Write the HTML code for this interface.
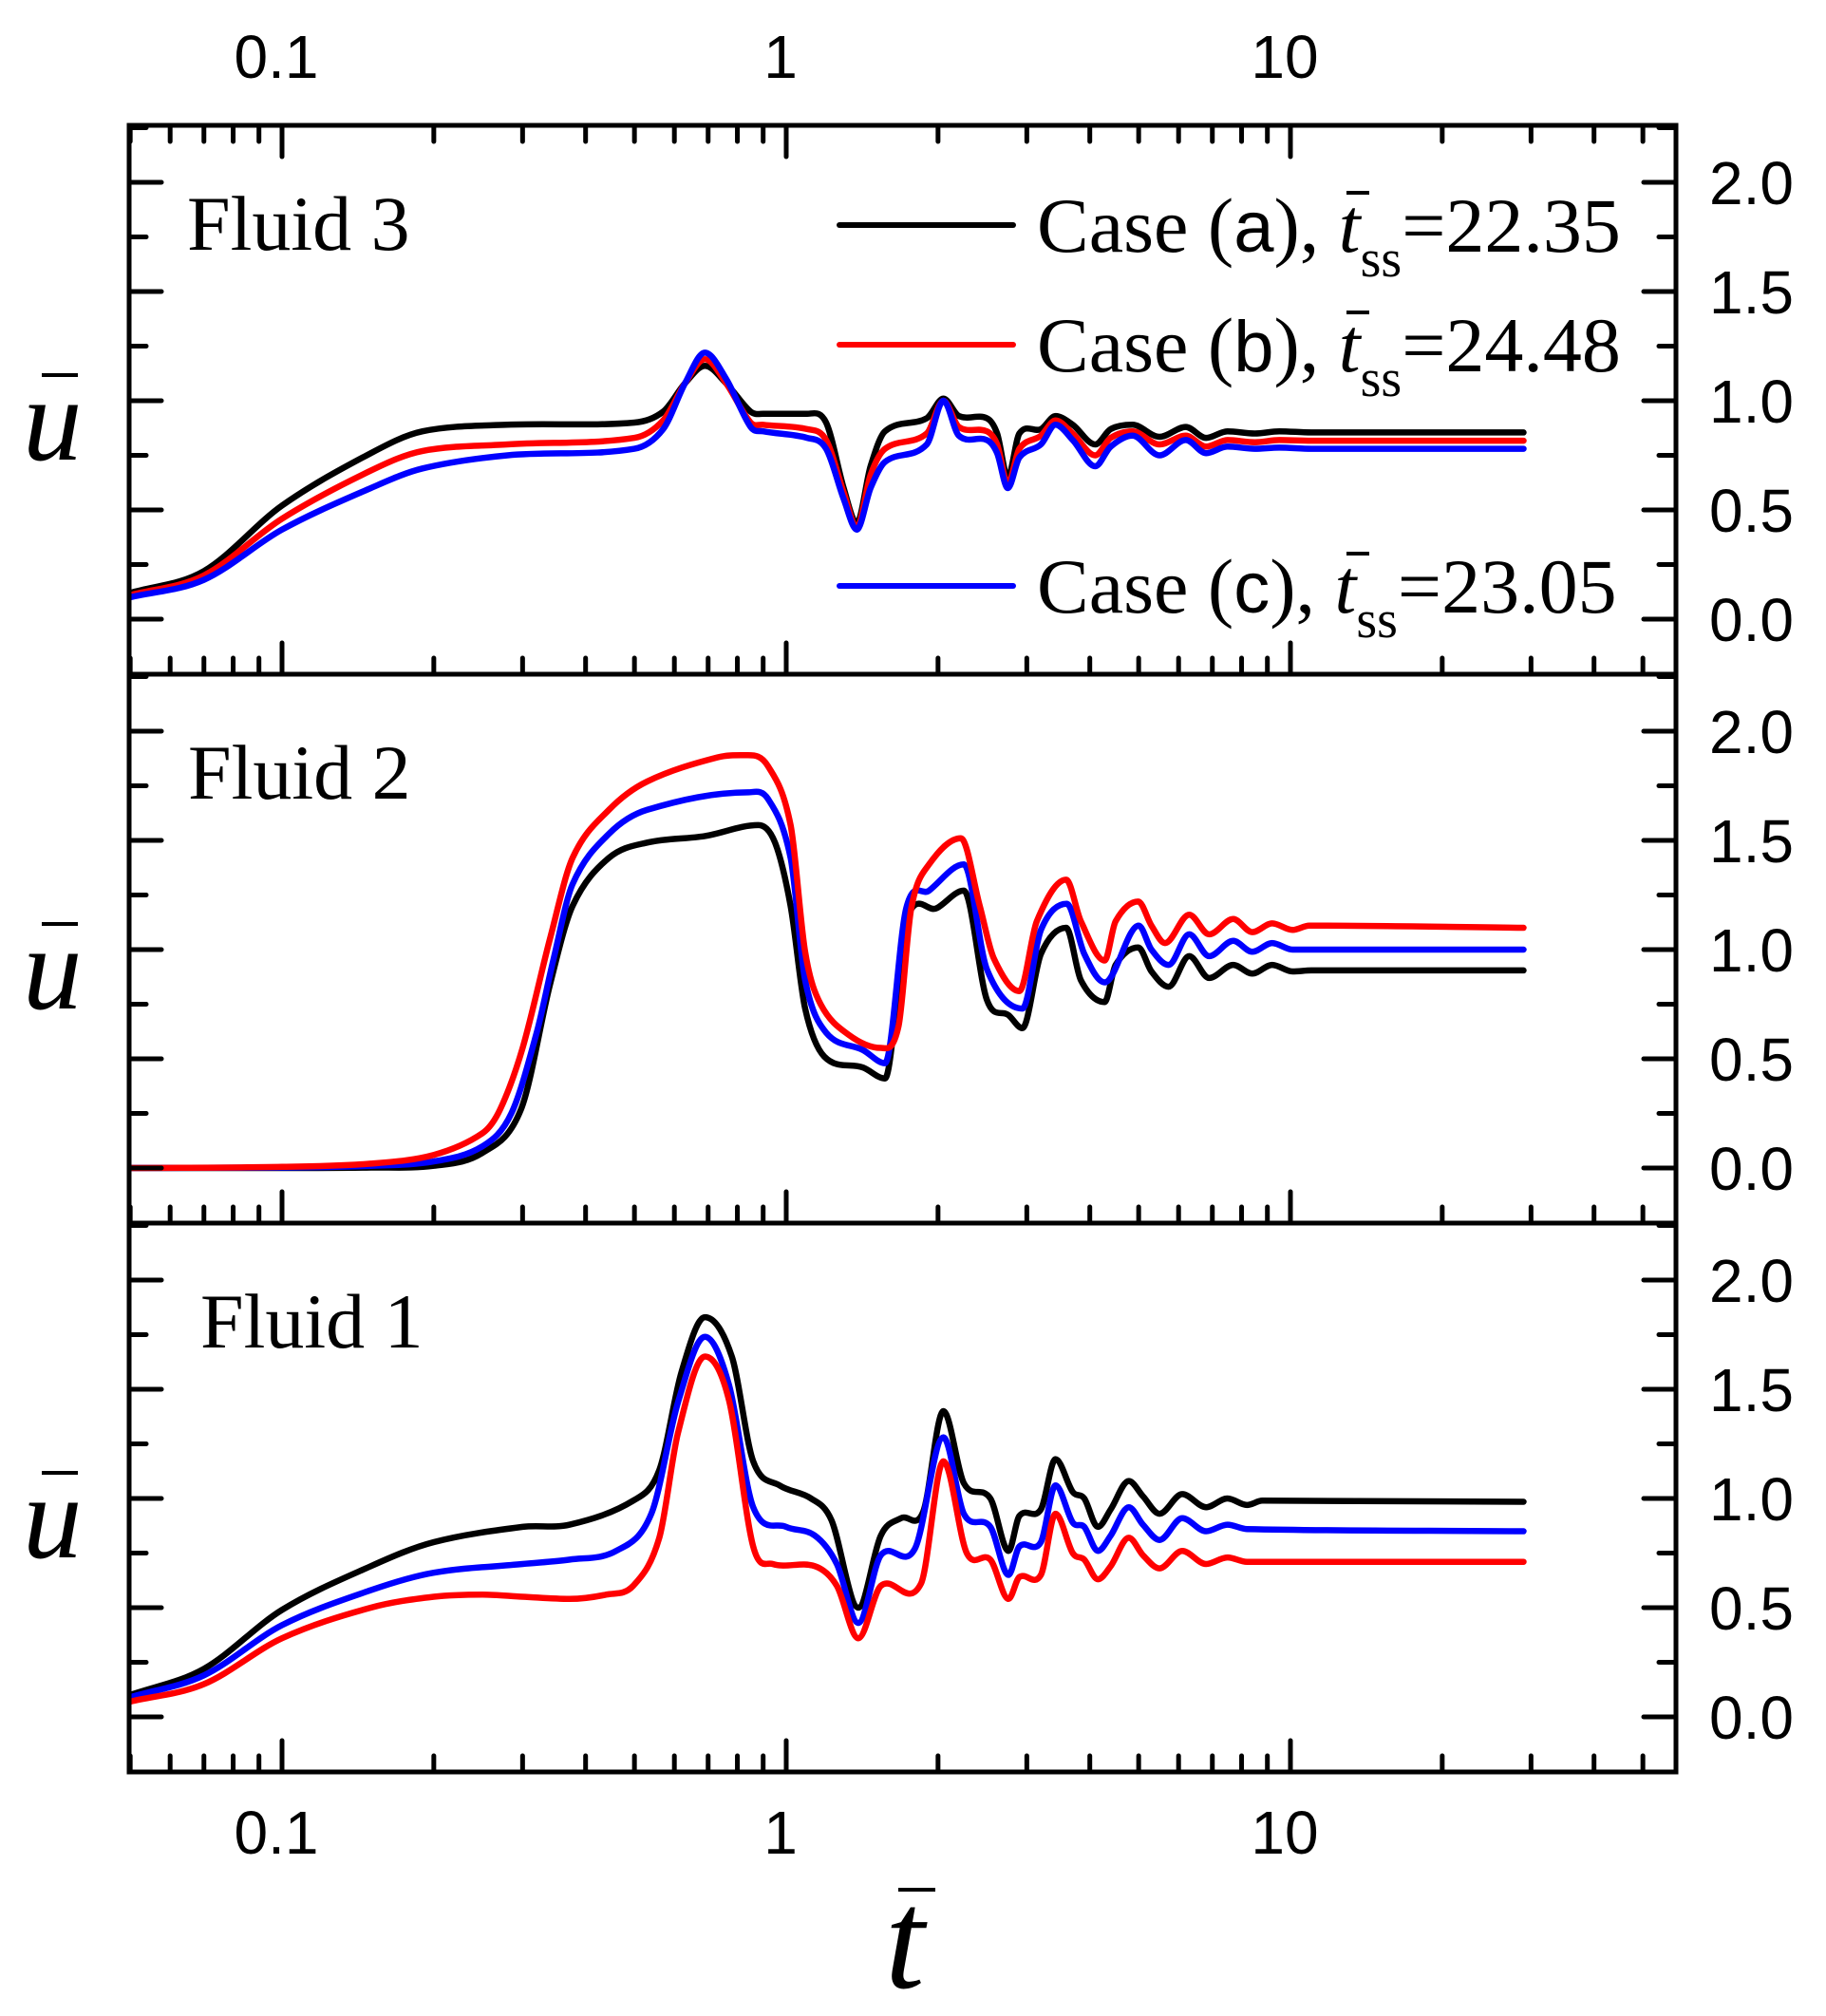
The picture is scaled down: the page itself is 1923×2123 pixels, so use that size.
<!DOCTYPE html>
<html>
<head>
<meta charset="utf-8">
<style>
  html, body { margin: 0; padding: 0; background: #fff; }
  svg { display: block; }
  .tick-label { font-family: "Liberation Sans", Arial, sans-serif; font-size: 64px; fill: #000; }
  .serif { font-family: "Liberation Serif", "Times New Roman", serif; fill: #000; }
</style>
</head>
<body>
<svg id="chart" width="1923" height="2123" viewBox="0 0 1923 2123" xmlns="http://www.w3.org/2000/svg">
  <g id="series-layer"></g>
  <g id="axes-layer"></g>
  <g id="text-layer"></g>
</svg>
<script>
// ---- data ----
const xTickValues = [0.1, 1, 10];
const xTickLabels = ["0.1", "1", "10"];
const yTickValues = [0, 0.5, 1, 1.5, 2];
const yTickLabels = ["0.0", "0.5", "1.0", "1.5", "2.0"];
const panelNames = ["Fluid 3", "Fluid 2", "Fluid 1"];
const seriesNames = ["Case (a)", "Case (b)", "Case (c)"];
const seriesTss = ["22.35", "24.48", "23.05"];

// Fluid 3 (top panel)
const f3_t_a = [0.05,0.07,0.1,0.15,0.19,0.28,0.5,0.57,0.63,0.69,0.76,0.85,0.9,1.1,1.2,1.3,1.38,1.47,1.57,1.9,2.05,2.2,2.5,2.62,2.75,2.9,3.2,3.42,3.7,4.1,4.4,4.86,5.5,6.2,6.8,7.5,8.5,9.5,11,29];
const f3_a = [0.12,0.22,0.52,0.76,0.86,0.89,0.9,0.95,1.08,1.16,1.08,0.95,0.94,0.94,0.9,0.6,0.44,0.7,0.86,0.92,1.01,0.93,0.92,0.85,0.65,0.85,0.87,0.93,0.89,0.8,0.87,0.89,0.835,0.88,0.83,0.86,0.85,0.86,0.855,0.855];
const f3_b = [0.11,0.2,0.46,0.68,0.77,0.8,0.83,0.91,1.08,1.19,1.08,0.9,0.89,0.87,0.82,0.58,0.42,0.66,0.78,0.85,1.0,0.88,0.86,0.8,0.62,0.78,0.84,0.91,0.85,0.75,0.83,0.86,0.8,0.84,0.79,0.82,0.81,0.82,0.817,0.817];
const f3_c = [0.1,0.18,0.41,0.6,0.69,0.75,0.78,0.87,1.08,1.22,1.1,0.88,0.86,0.83,0.78,0.55,0.41,0.6,0.72,0.8,1.0,0.84,0.82,0.76,0.6,0.74,0.8,0.89,0.82,0.7,0.79,0.84,0.75,0.82,0.76,0.79,0.78,0.785,0.78,0.78];

// Fluid 2 (middle panel)
const f2_t_a = [0.05,0.1,0.15,0.2,0.25,0.298,0.34,0.377,0.445,0.53,0.69,0.88,0.95,1.02,1.09,1.19,1.42,1.57,1.73,1.99,2.25,2.5,2.76,2.94,3.2,3.59,3.84,4.28,4.5,4.99,5.3,5.73,6.3,6.9,7.7,8.4,9.2,10.1,11,29];
const f2_a = [0,0,0.002,0.01,0.07,0.27,0.84,1.2,1.42,1.49,1.52,1.57,1.49,1.2,0.73,0.51,0.46,0.41,1.13,1.19,1.27,0.77,0.7,0.64,0.98,1.1,0.86,0.76,0.93,1.01,0.9,0.83,0.97,0.87,0.93,0.89,0.93,0.9,0.905,0.905];
const f2_t_b = [0.05,0.1,0.15,0.2,0.25,0.271,0.3,0.34,0.377,0.445,0.53,0.73,0.84,0.92,1.02,1.09,1.17,1.33,1.54,1.67,1.77,1.92,2.22,2.42,2.58,2.9,3.14,3.59,3.84,4.28,4.5,4.99,5.3,5.64,6.3,6.9,7.7,8.4,9.2,10.1,10.9,29];
const f2_b = [0,0.005,0.02,0.06,0.16,0.27,0.55,1.05,1.42,1.64,1.77,1.88,1.89,1.84,1.57,0.99,0.75,0.61,0.55,0.65,1.19,1.39,1.51,1.2,0.96,0.81,1.13,1.32,1.13,0.95,1.13,1.22,1.11,1.03,1.16,1.07,1.14,1.08,1.12,1.09,1.11,1.1];
const f2_t_c = [0.05,0.1,0.15,0.2,0.25,0.285,0.32,0.345,0.377,0.445,0.53,0.84,0.92,1.02,1.09,1.2,1.42,1.57,1.73,1.92,2.25,2.5,2.94,3.2,3.6,3.9,4.28,5.0,5.3,5.73,6.3,6.9,7.7,8.4,9.2,10.1,29];
const f2_c = [0,0.002,0.01,0.03,0.1,0.25,0.62,0.95,1.3,1.53,1.64,1.72,1.69,1.42,0.86,0.62,0.54,0.48,1.19,1.27,1.39,0.91,0.73,1.09,1.21,0.98,0.85,1.11,1.0,0.93,1.07,0.97,1.04,0.99,1.03,1.0,1.0];

// Fluid 1 (bottom panel)
const f1_t_a = [0.05,0.07,0.1,0.15,0.2,0.3,0.372,0.497,0.56,0.62,0.69,0.78,0.86,0.97,1.12,1.23,1.39,1.54,1.69,1.87,2.05,2.25,2.54,2.76,2.9,3.2,3.42,3.7,3.9,4.15,4.4,4.78,5.1,5.5,6.1,6.8,7.5,8.2,8.8,29];
const f1_a = [0.1,0.22,0.49,0.69,0.8,0.87,0.88,0.99,1.13,1.58,1.83,1.65,1.17,1.06,1.0,0.9,0.5,0.83,0.91,0.94,1.4,1.07,1.0,0.76,0.92,0.95,1.18,1.03,1.0,0.87,0.95,1.08,1.01,0.93,1.02,0.96,1.0,0.97,0.99,0.985];
const f1_t_b = [0.05,0.07,0.1,0.15,0.2,0.25,0.3,0.372,0.44,0.497,0.56,0.61,0.69,0.77,0.86,0.94,1.14,1.26,1.39,1.54,1.85,2.05,2.28,2.54,2.76,2.9,3.2,3.42,3.7,3.9,4.15,4.4,4.78,5.1,5.5,6.1,6.8,7.5,8.2,29];
const f1_b = [0.07,0.15,0.36,0.5,0.55,0.56,0.55,0.54,0.56,0.6,0.82,1.3,1.65,1.45,0.78,0.7,0.69,0.6,0.36,0.6,0.61,1.17,0.75,0.72,0.54,0.64,0.65,0.93,0.75,0.72,0.63,0.69,0.82,0.74,0.68,0.76,0.7,0.73,0.71,0.71];
const f1_t_c = [0.05,0.07,0.1,0.15,0.2,0.3,0.372,0.46,0.54,0.61,0.69,0.77,0.86,1.0,1.14,1.26,1.39,1.54,1.8,2.05,2.25,2.54,2.76,2.9,3.2,3.42,3.7,3.9,4.15,4.4,4.78,5.1,5.5,6.1,6.8,7.5,8.2,29];
const f1_c = [0.09,0.19,0.42,0.58,0.66,0.7,0.72,0.76,0.93,1.44,1.74,1.52,0.96,0.87,0.83,0.7,0.43,0.74,0.77,1.28,0.93,0.87,0.65,0.78,0.8,1.06,0.89,0.87,0.76,0.83,0.96,0.88,0.81,0.91,0.85,0.88,0.86,0.85];

// ---- layout ----
const NS = "http://www.w3.org/2000/svg";
const L = 136, R = 1765, TOP = 132, PH = 578;
const YS = 230; // px per unit
function X(t) { return 297 + 531 * Math.log10(t / 0.1); }
function Y(panel, u) { return TOP + panel * PH + 520 - u * YS; }

const seriesLayer = document.getElementById('series-layer');
const axesLayer = document.getElementById('axes-layer');
const textLayer = document.getElementById('text-layer');

function mk(tag, attrs, parent) {
  const e = document.createElementNS(NS, tag);
  for (const k in attrs) e.setAttribute(k, attrs[k]);
  parent.appendChild(e);
  return e;
}

// cubic Hermite in x (no loops)
function smoothPath(pts) {
  const n = pts.length;
  const m = pts.map((p, i) => {
    const a = pts[Math.max(0, i - 1)], b = pts[Math.min(n - 1, i + 1)];
    const s1 = i > 0 ? (p[1] - a[1]) / (p[0] - a[0]) : null;
    const s2 = i < n - 1 ? (b[1] - p[1]) / (b[0] - p[0]) : null;
    if (s1 === null) return s2;
    if (s2 === null) return s1;
    if (s1 * s2 <= 0) return 0;
    return (b[1] - a[1]) / (b[0] - a[0]);
  });
  let d = "M" + pts[0][0].toFixed(1) + "," + pts[0][1].toFixed(1);
  for (let i = 0; i < n - 1; i++) {
    const p1 = pts[i], p2 = pts[i + 1];
    const dx = (p2[0] - p1[0]) / 3;
    d += " C" + (p1[0] + dx).toFixed(1) + "," + (p1[1] + m[i] * dx).toFixed(1) + " " +
         (p2[0] - dx).toFixed(1) + "," + (p2[1] - m[i + 1] * dx).toFixed(1) + " " +
         p2[0].toFixed(1) + "," + p2[1].toFixed(1);
  }
  return d;
}

const colors = ["#000000", "#ff0000", "#0000ff"];
const panelSeries = [
  [[f3_t_a, f3_a], [f3_t_a, f3_b], [f3_t_a, f3_c]],
  [[f2_t_a, f2_a], [f2_t_b, f2_b], [f2_t_c, f2_c]],
  [[f1_t_a, f1_a], [f1_t_b, f1_b], [f1_t_c, f1_c]]
];
const drawOrder = [[0,1,2],[0,2,1],[0,2,1]];
const panelKeys = ["fluid-3", "fluid-2", "fluid-1"];
const caseKeys = ["case-a", "case-b", "case-c"];

panelSeries.forEach((ser, p) => {
  drawOrder[p].forEach(s => {
    const [ts, us] = ser[s];
    const pts = ts.map((t, i) => [X(t), Y(p, us[i])]);
    const path = mk('path', { d: smoothPath(pts), fill: 'none', stroke: colors[s], 'stroke-width': 6.5, 'stroke-linejoin': 'round', 'stroke-linecap': 'round' }, seriesLayer);
    
    
  });
});

// ---- axes ----
const minorX = [];
[0.01, 0.1, 1, 10].forEach(dec => { for (let m = 2; m <= 9; m++) minorX.push(dec * m); });
const xMin = 0.0497, xMax = 58;

for (let p = 0; p < 3; p++) {
  const y0 = TOP + p * PH, y1 = y0 + PH;
  const frame = mk('rect', { x: L, y: y0, width: R - L, height: PH, fill: 'none', stroke: '#000', 'stroke-width': 5 }, axesLayer);
  
  
  xTickValues.forEach(v => {
    const t = mk('line', { x1: X(v), x2: X(v), y1: y1, y2: y1 - 33, stroke: '#000', 'stroke-width': 5, 'stroke-linecap': 'round' }, axesLayer);
    
    
  });
  minorX.forEach(v => {
    if (v <= xMin || v >= xMax) return;
    const t = mk('line', { x1: X(v), x2: X(v), y1: y1, y2: y1 - 17, stroke: '#000', 'stroke-width': 5, 'stroke-linecap': 'round' }, axesLayer);
    
    
  });
  for (let k = -1; k <= 9; k++) {
    const u = k * 0.25;
    const yy = Y(p, u);
    if (yy <= y0 + 2 || yy >= y1 - 2) continue;
    const len = (k % 2 === 0) ? 34 : 18;
    const tl = mk('line', { x1: L, x2: L + len, y1: yy, y2: yy, stroke: '#000', 'stroke-width': 5, 'stroke-linecap': 'round' }, axesLayer);
    
    
    const tr = mk('line', { x1: R, x2: R - len, y1: yy, y2: yy, stroke: '#000', 'stroke-width': 5, 'stroke-linecap': 'round' }, axesLayer);
    
    
  }
  yTickValues.forEach((v, i) => {
    const tx = mk('text', { x: 1800, y: Y(p, v) + 23, class: 'tick-label' }, textLayer);
    tx.textContent = yTickLabels[i];
    
    
  });
  const yt = mk('text', { x: 24, y: y0 + 352, class: 'serif', 'font-size': 125, 'font-style': 'italic' }, textLayer);
  yt.textContent = "u";
  
  
  const yb = mk('line', { x1: 44, x2: 82, y1: y0 + 263, y2: y0 + 263, stroke: '#000', 'stroke-width': 4 }, textLayer);
  
  
  const pl = mk('text', { x: [197, 198, 211][p], y: y0 + 131, class: 'serif', 'font-size': 82 }, textLayer);
  pl.textContent = panelNames[p];
  
  
}

xTickValues.forEach(v => {
  const t = mk('line', { x1: X(v), x2: X(v), y1: TOP, y2: TOP + 33, stroke: '#000', 'stroke-width': 5, 'stroke-linecap': 'round' }, axesLayer);
  
  
});
minorX.forEach(v => {
  if (v <= xMin || v >= xMax) return;
  const t = mk('line', { x1: X(v), x2: X(v), y1: TOP, y2: TOP + 17, stroke: '#000', 'stroke-width': 5, 'stroke-linecap': 'round' }, axesLayer);
  
  
});

xTickValues.forEach((v, i) => {
  const a = mk('text', { x: X(v) - 6, y: 82, class: 'tick-label', 'text-anchor': 'middle' }, textLayer);
  a.textContent = xTickLabels[i];
  
  
  const b = mk('text', { x: X(v) - 6, y: 1952, class: 'tick-label', 'text-anchor': 'middle' }, textLayer);
  b.textContent = xTickLabels[i];
  
  
});

const xt = mk('text', { x: 932, y: 2093, class: 'serif', 'font-size': 150, 'font-style': 'italic' }, textLayer);
xt.textContent = "t";


const xb = mk('line', { x1: 946, x2: 985, y1: 1990, y2: 1990, stroke: '#000', 'stroke-width': 4 }, textLayer);



// legend
const legendY = [237, 363, 617];
const legendLetters = ["a", "b", "c"];
seriesNames.forEach((nm, i) => {
  const g = mk('g', {}, textLayer);
  
  
  const ln = mk('line', { x1: 884, x2: 1067, y1: legendY[i], y2: legendY[i], stroke: colors[i], 'stroke-width': 6, 'stroke-linecap': 'round' }, g);
  
  
  const base = legendY[i] + 28;
  const tx = mk('text', { x: 1092, y: base, class: 'serif', 'font-size': 82 }, g);
  
  
  const s1 = mk('tspan', {}, tx); s1.textContent = "Case (";
  const s2 = mk('tspan', { 'font-family': '"Liberation Sans", Arial, sans-serif', 'font-size': 76 }, tx); s2.textContent = legendLetters[i];
  const s3 = mk('tspan', {}, tx); s3.textContent = "), ";
  const s4 = mk('tspan', { 'font-style': 'italic' }, tx); s4.textContent = "t";
  const s5 = mk('tspan', { 'font-size': 56, dy: 26 }, tx); s5.textContent = "ss";
  const s6 = mk('tspan', { dy: -26 }, tx); s6.textContent = "=" + seriesTss[i];
  const b = mk('line', { x1: 1418, x2: 1442, y1: legendY[i] - 34, y2: legendY[i] - 34, stroke: '#000', 'stroke-width': 4 }, g);
  
  
});
</script>
</body>
</html>
